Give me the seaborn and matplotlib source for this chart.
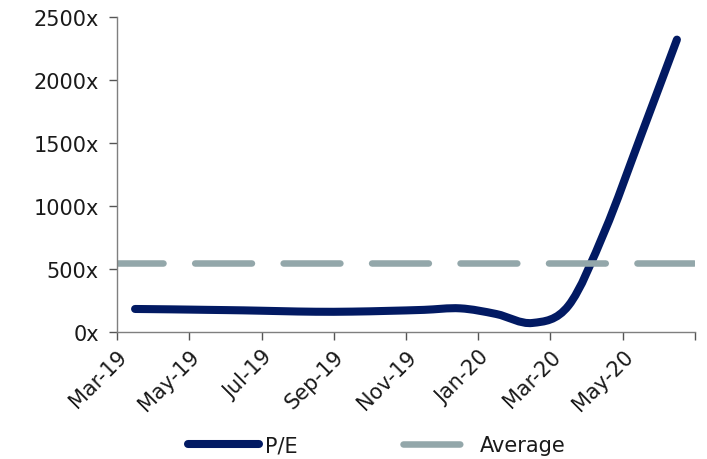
import numpy as np
import matplotlib.pyplot as plt
import seaborn as sns
from matplotlib.path import Path
from matplotlib.patches import PathPatch
from matplotlib.lines import Line2D

# Axis months (tick every 2 months), data months and values
axis_months = ['Mar-19', 'Apr-19', 'May-19', 'Jun-19', 'Jul-19', 'Aug-19', 'Sep-19', 'Oct-19',
               'Nov-19', 'Dec-19', 'Jan-20', 'Feb-20', 'Mar-20', 'Apr-20', 'May-20', 'Jun-20', 'Jul-20']
data_months = axis_months[:16]
pe_values = [183, 180, 176, 172, 166, 161, 162, 168, 176, 188, 143, 72, 210, 800, 1555, 2320]
average_pe = 545
y_ticks = [0, 500, 1000, 1500, 2000, 2500]

NAVY = '#021a63'
GREY = '#93a7aa'
AVG_DASH = (8.7, 4.85)  # in units of line width

sns.set_theme(style='white')
plt.rcParams['font.family'] = ['DejaVu Sans']
plt.rcParams['text.color'] = '#1a1a1a'

fig = plt.figure(figsize=(7.07, 4.60), dpi=100)
ax = fig.add_axes([0.1655, 0.276, 0.8175, 0.685])

# x position of each month: centred between tick marks
x_pe = np.arange(len(data_months)) + 0.5
x_lo, x_hi = 0, len(axis_months) - 1

# average line across the full plot width
sns.lineplot(x=[x_lo, x_hi], y=[average_pe, average_pe], ax=ax, color=GREY, linewidth=4.7)
avg_line = ax.lines[-1]
avg_line.set_linestyle((1.65, AVG_DASH))
avg_line.set_dash_capstyle('round')

# smoothed P/E line (Excel-style Catmull-Rom bezier through the points)
pts = np.column_stack([x_pe, pe_values]).astype(float)
padded = np.vstack([pts[0], pts, pts[-1]])
verts = [tuple(pts[0])]
codes = [Path.MOVETO]
for i in range(len(pts) - 1):
    p0, p1, p2, p3 = padded[i], padded[i + 1], padded[i + 2], padded[i + 3]
    c1 = p1 + (p2 - p0) / 6
    c2 = p2 - (p3 - p1) / 6
    verts += [tuple(c1), tuple(c2), tuple(p2)]
    codes += [Path.CURVE4] * 3
ax.add_patch(PathPatch(Path(verts, codes), facecolor='none', edgecolor=NAVY,
                       linewidth=5.8, capstyle='round', joinstyle='round'))

ax.set_xlim(x_lo, x_hi)
ax.set_ylim(0, 2500)
ax.set_yticks(y_ticks)
ax.set_yticklabels([f'{v}x' for v in y_ticks])
tick_pos = np.arange(0, len(axis_months), 2)
ax.set_xticks(tick_pos)
ax.set_xticklabels([axis_months[i] if i < len(axis_months) - 1 else '' for i in tick_pos],
                   rotation=45, ha='right', rotation_mode='anchor')

sns.despine(ax=ax)
for s in ['left', 'bottom']:
    ax.spines[s].set_color('#7f7f7f')
    ax.spines[s].set_linewidth(1.0)
ax.tick_params(axis='both', which='major', direction='out', length=6, width=1,
               color='#555555', labelsize=15, labelcolor='#1a1a1a', left=True, bottom=True)
ax.tick_params(axis='y', pad=7)
ax.tick_params(axis='x', pad=4)
ax.set_xlabel('')
ax.set_ylabel('')

avg_handle = Line2D([], [], color=GREY, linewidth=4.7)
avg_handle.set_linestyle((0, AVG_DASH))
avg_handle.set_dash_capstyle('round')
handles = [Line2D([], [], color=NAVY, linewidth=5.8, solid_capstyle='round'), avg_handle]
fig.legend(handles, ['P/E', 'Average'], loc='center', bbox_to_anchor=(0.533, 0.03),
           ncol=2, frameon=False, fontsize=15, handlelength=3.4, handletextpad=0.25,
           columnspacing=5.1)

fig.savefig('out.png', dpi=100)
